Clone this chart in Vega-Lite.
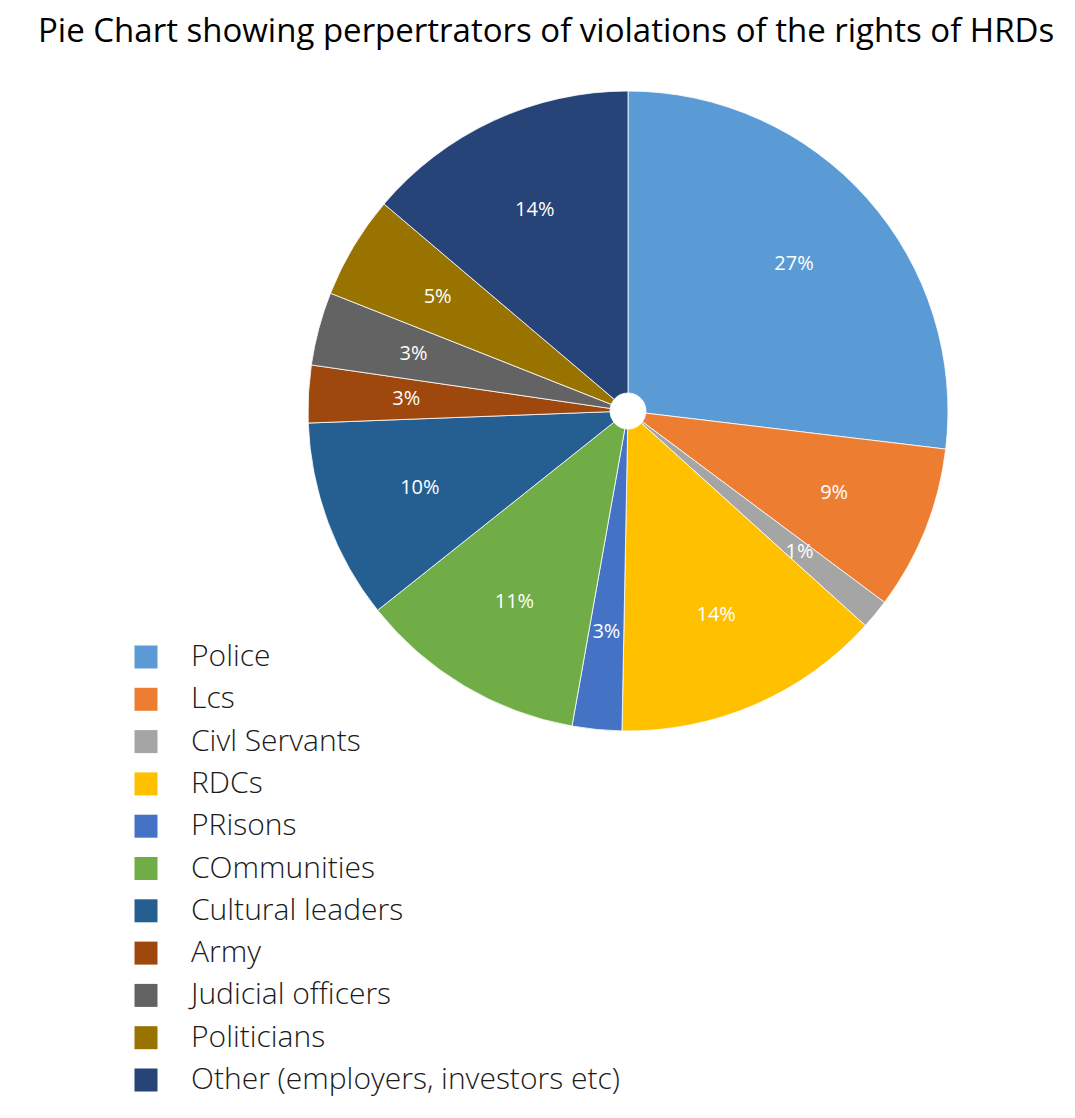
{
  "$schema": "https://vega.github.io/schema/vega-lite/v6.json",
  "autosize": {"type": "none"},
  "width": 640,
  "height": 640,
  "padding": {"left": 308, "top": 91, "right": 127, "bottom": 387},
  "background": "white",
  "title": {
    "text": "Pie Chart showing perpertrators of violations of the rights of HRDs",
    "anchor": "start",
    "frame": "group",
    "dx": -270,
    "offset": 40,
    "font": "Open Sans",
    "fontSize": 33,
    "fontWeight": "normal",
    "color": "#000000"
  },
  "data": {
    "values": [
      {"k": 1, "perpetrator": "Police", "share": 26.9, "label": "27%"},
      {"k": 2, "perpetrator": "Lcs", "share": 8.3, "label": "9%"},
      {"k": 3, "perpetrator": "Civl Servants", "share": 1.5, "label": "1%"},
      {"k": 4, "perpetrator": "RDCs", "share": 13.6, "label": "14%"},
      {"k": 5, "perpetrator": "PRisons", "share": 2.5, "label": "3%"},
      {"k": 6, "perpetrator": "COmmunities", "share": 11.5, "label": "11%"},
      {"k": 7, "perpetrator": "Cultural leaders", "share": 10.1, "label": "10%"},
      {"k": 8, "perpetrator": "Army", "share": 2.9, "label": "3%"},
      {"k": 9, "perpetrator": "Judicial officers", "share": 3.7, "label": "3%"},
      {"k": 10, "perpetrator": "Politicians", "share": 5.2, "label": "5%"},
      {"k": 11, "perpetrator": "Other (employers, investors etc)", "share": 13.8, "label": "14%"}
    ]
  },
  "encoding": {
    "theta": {"field": "share", "type": "quantitative", "stack": true},
    "order": {"field": "k", "type": "quantitative"}
  },
  "layer": [
    {
      "mark": {"type": "arc", "innerRadius": 18, "outerRadius": 320, "stroke": "#ffffff", "strokeWidth": 0.8},
      "encoding": {
        "color": {
          "field": "perpetrator",
          "type": "nominal",
          "scale": {
            "domain": ["Police", "Lcs", "Civl Servants", "RDCs", "PRisons", "COmmunities", "Cultural leaders", "Army", "Judicial officers", "Politicians", "Other (employers, investors etc)"],
            "range": ["#5B9BD5", "#ED7D31", "#A5A5A5", "#FFC000", "#4472C4", "#70AD47", "#255E91", "#9E480E", "#636363", "#997300", "#264478"]
          },
          "legend": {
            "orient": "none",
            "legendX": -177,
            "legendY": 551,
            "title": null,
            "padding": 0,
            "symbolType": "square",
            "symbolSize": 529,
            "symbolStrokeWidth": 0,
            "labelFont": "Open Sans",
            "labelFontWeight": 300,
            "labelFontSize": 30,
            "labelColor": "#1a1a1a",
            "labelOffset": 30,
            "labelLimit": 600,
            "rowPadding": 12.3
          }
        }
      }
    },
    {
      "mark": {"type": "text", "radius": 222, "font": "Open Sans", "fontSize": 20, "align": "center", "baseline": "middle", "color": "#ffffff"},
      "encoding": {"text": {"field": "label", "type": "nominal"}}
    }
  ]
}
